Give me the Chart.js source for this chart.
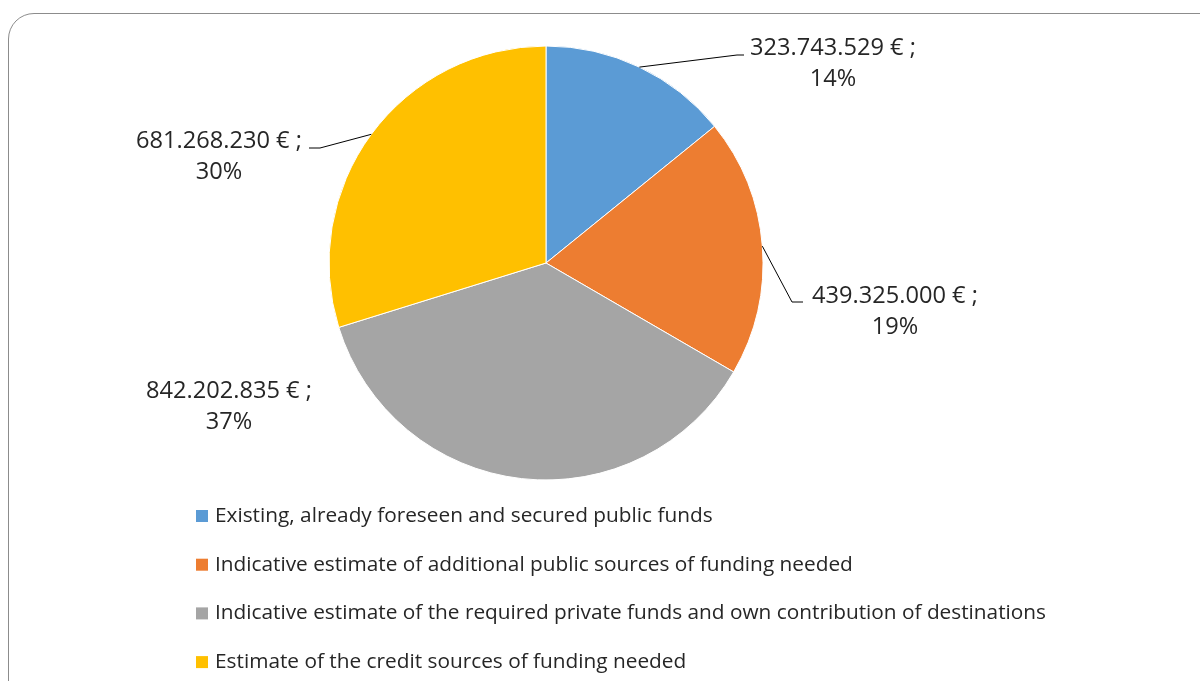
<!DOCTYPE html>
<html>
<head>
<meta charset="utf-8">
<script src="https://cdn.jsdelivr.net/npm/chart.js@4"></script>
<style>
  html, body { margin: 0; padding: 0; background: #fff; overflow: hidden; }
  #wrap { position: relative; width: 1200px; height: 681px; }
  #frame {
    position: absolute; left: 8px; top: 13px; width: 1230px; height: 720px;
    border: 1.5px solid #8c8c8c; border-radius: 26px; box-sizing: border-box;
  }
  canvas { position: absolute; left: 0; top: 0; }
</style>
</head>
<body>
<div id="wrap">
  <div id="frame"></div>
  <canvas id="chart" width="1200" height="681"></canvas>
</div>
<script>
// Funding sources (EUR)
const categories = [
  'Existing, already foreseen and secured public funds',
  'Indicative estimate of additional public sources of funding needed',
  'Indicative estimate of the required private funds and own contribution of destinations',
  'Estimate of the credit sources of funding needed'
];
const amounts = [323743529, 439325000, 842202835, 681268230];
const colors = ['#5B9BD5', '#ED7D31', '#A5A5A5', '#FFC000'];

const FONT = '"Open Sans", sans-serif';
const TEXT_COLOR = '#262626';

// label placement: text centre (first line) and leader elbow, per slice
const labelLayout = [
  { x: 833, y: 48, elbow: [737, 55], end: [744, 55] },
  { x: 895, y: 296, elbow: [792, 302], end: [803, 302] },
  { x: 229, y: 391, elbow: null, end: null },
  { x: 219, y: 141, elbow: [320, 148], end: [309, 148] }
];

const fmtEuro = (v) => v.toLocaleString('de-DE') + ' € ;';

// pick a font size so a reference string spans the width seen in the picture
function fitSize(text, width) {
  const c = document.createElement('canvas').getContext('2d');
  c.font = '100px ' + FONT;
  return 100 * width / c.measureText(text).width;
}
const labelSize = fitSize('323.743.529 € ;', 166);
const legendSize = fitSize(categories[0], 498);

const dataLabels = {
  id: 'dataLabels',
  afterDatasetsDraw(chart) {
    const ctx = chart.ctx;
    const meta = chart.getDatasetMeta(0);
    const total = amounts.reduce((a, b) => a + b, 0);
    ctx.save();
    meta.data.forEach((arc, i) => {
      const lay = labelLayout[i];
      const mid = (arc.startAngle + arc.endAngle) / 2;
      if (lay.elbow) {
        const sx = arc.x + Math.cos(mid) * arc.outerRadius;
        const sy = arc.y + Math.sin(mid) * arc.outerRadius;
        ctx.beginPath();
        ctx.moveTo(sx, sy);
        ctx.lineTo(lay.elbow[0], lay.elbow[1]);
        ctx.lineTo(lay.end[0], lay.end[1]);
        ctx.strokeStyle = '#000';
        ctx.lineWidth = 1;
        ctx.stroke();
      }
      ctx.fillStyle = TEXT_COLOR;
      ctx.font = labelSize.toFixed(1) + 'px ' + FONT;
      ctx.textAlign = 'center';
      ctx.textBaseline = 'middle';
      ctx.fillText(fmtEuro(amounts[i]), lay.x, lay.y);
      ctx.fillText(Math.round(amounts[i] / total * 100) + '%', lay.x, lay.y + 31);
    });
    ctx.restore();
  }
};

const sideLegend = {
  id: 'sideLegend',
  afterDraw(chart) {
    const ctx = chart.ctx;
    ctx.save();
    ctx.font = legendSize.toFixed(1) + 'px ' + FONT;
    ctx.textAlign = 'left';
    ctx.textBaseline = 'middle';
    chart.data.labels.forEach((label, i) => {
      const y = 516 + i * 48.7;
      ctx.fillStyle = colors[i];
      ctx.fillRect(196, y - 6, 12, 12);
      ctx.fillStyle = TEXT_COLOR;
      ctx.fillText(label, 215, y);
    });
    ctx.restore();
  }
};

new Chart(document.getElementById('chart'), {
  type: 'pie',
  data: {
    labels: categories,
    datasets: [{
      data: amounts,
      backgroundColor: colors,
      borderColor: '#ffffff',
      borderWidth: 1,
      hoverOffset: 0,
      radius: 217
    }]
  },
  options: {
    responsive: false,
    animation: false,
    layout: { padding: { top: 46, bottom: 201, left: 0, right: 108 } },
    plugins: {
      legend: { display: false },
      tooltip: { enabled: false }
    }
  },
  plugins: [dataLabels, sideLegend]
});
</script>
</body>
</html>
